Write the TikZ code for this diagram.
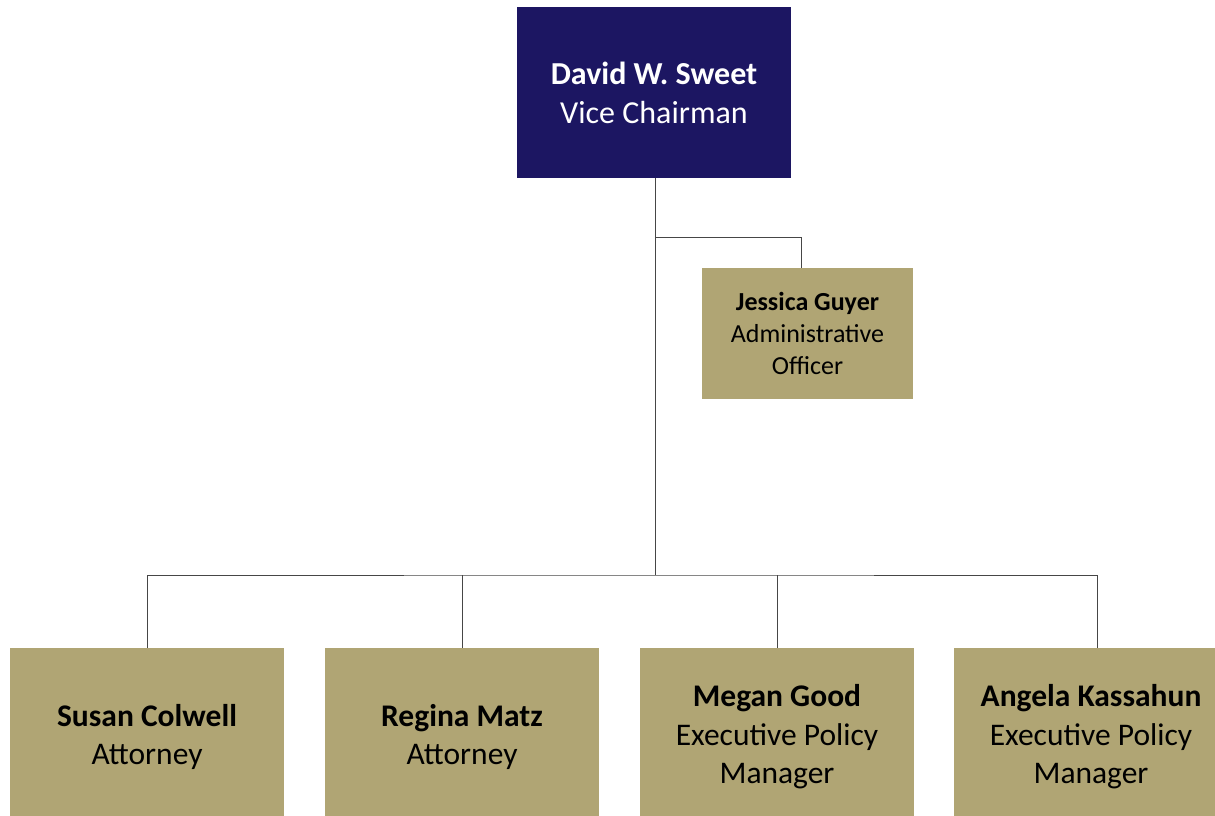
\documentclass[tikz,border=0pt]{standalone}
\usepackage{fontspec}
\setmainfont{Carlito}
\definecolor{navy}{RGB}{28,22,98}
\definecolor{gold}{RGB}{176,165,116}
\definecolor{linec}{RGB}{70,70,70}
\begin{document}
\begin{tikzpicture}[x=1pt,y=-1pt,
  card/.style={rectangle,fill=gold,draw=none,inner sep=0pt,align=center,text=black,
    minimum width=274pt,minimum height=178pt},
  topcard/.style={rectangle,fill=navy,draw=none,inner sep=0pt,align=center,text=white,
    minimum width=274pt,minimum height=171pt,font=\fontsize{32}{39}\selectfont},
  smallcard/.style={rectangle,fill=gold,draw=none,inner sep=0pt,align=center,text=black,
    minimum width=211pt,minimum height=131pt,font=\fontsize{26}{32}\selectfont},
  bigtext/.style={font=\fontsize{31.5}{38.5}\selectfont},
  conn/.style={draw=linec,line width=1pt}]
\clip (0,0) rectangle (1215,816);
\fill[white] (0,0) rectangle (1215,816);
\node[topcard] (top) at (654,92.5) {\textbf{David W. Sweet}\\Vice Chairman};
\node[smallcard] (jess) at (807.5,333.5) {\textbf{Jessica Guyer}\\Administrative\\Officer};
\node[card,bigtext] (susan) at (147,737) {\textbf{Susan Colwell}\\Attorney};
\node[card,bigtext] (regina) at (462,737) {\textbf{Regina Matz}\\Attorney};
\node[card,bigtext] (megan) at (777,737) {\textbf{Megan Good}\\Executive Policy\\Manager};
\node[card,bigtext] (angela) at (1091,737) {\textbf{Angela Kassahun}\\Executive Policy\\Manager};
\coordinate (bus) at (655,575);
\coordinate (jb) at (655,237);
\draw[conn] (top.south -| bus) -- (bus);
\draw[conn] (jb) -| ([xshift=-6.5pt]jess.north);
\draw[conn] (susan.north) |- (bus) -| ([xshift=6pt]angela.north);
\draw[conn] (regina.north) -- (regina.north |- bus);
\draw[conn] (megan.north) -- (megan.north |- bus);
\end{tikzpicture}
\end{document}
